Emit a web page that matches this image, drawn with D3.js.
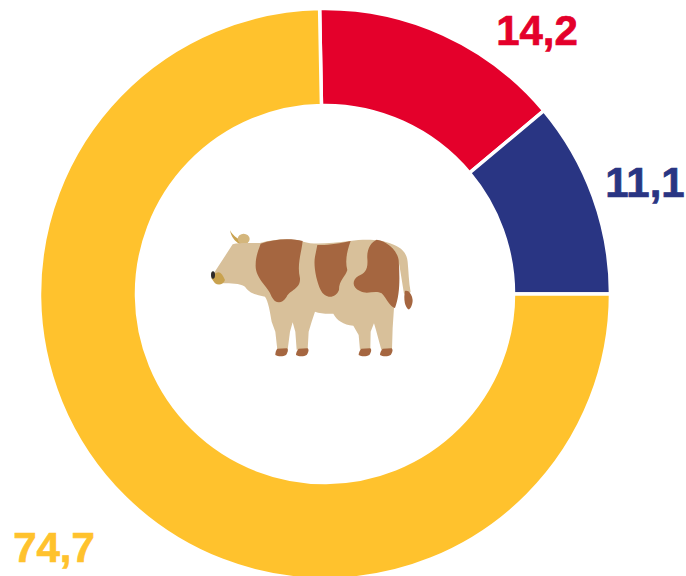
<!DOCTYPE html>
<html lang="en">
<head>
<meta charset="utf-8">
<title>Cow donut</title>
<script src="https://d3js.org/d3.v7.min.js"></script>
<style>
    html, body { margin: 0; padding: 0; background: #fff; }
    svg { display: block; }
    text { font-family: "Liberation Sans", Arial, sans-serif; font-weight: bold; }
</style>
</head>
<body>
<div id="chart"></div>
<script>
    var categories = ["red", "blue", "yellow"];
    var values = [14.2, 11.1, 74.7];
    var labels = ["14,2", "11,1", "74,7"];
    var colors = ["#e4002b", "#293583", "#ffc22d"];

    var WIDTH = 686;
    var HEIGHT = 576;
    var CX = 325;
    var CY = 294;
    // radii allow for the white stroke eating into the ring
    var OUTER = 285.5;
    var INNER = 188.5;

    // the blue slice has to end exactly at 3 o'clock
    var start = (Math.PI / 2) - (values[0] + values[1]) / d3.sum(values) * 2 * Math.PI;

    var svg = d3.select("#chart").append("svg")
        .attr("width", WIDTH)
        .attr("height", HEIGHT);

    var pie = d3.pie()
        .sort(null)
        .startAngle(start)
        .endAngle(start + 2 * Math.PI);

    var arc = d3.arc()
        .innerRadius(INNER)
        .outerRadius(OUTER);

    svg.append("g")
        .attr("transform", "translate(" + CX + "," + CY + ")")
        .selectAll("path")
        .data(pie(values))
        .enter().append("path")
        .attr("d", arc)
        .attr("fill", function (d, i) { return colors[i]; })
        .attr("stroke", "#fff")
        .attr("stroke-width", 3.5);

    // label anchors, outside the ring
    var labelX = [537, 645, 54];
    var labelY = [44.5, 197, 561.5];

    svg.selectAll(".lbl")
        .data(labels)
        .enter().append("text")
        .attr("class", "lbl")
        .attr("x", function (d, i) { return labelX[i]; })
        .attr("y", function (d, i) { return labelY[i]; })
        .attr("text-anchor", "middle")
        .attr("font-size", 42)
        .attr("fill", function (d, i) { return colors[i]; })
        .attr("stroke", function (d, i) { return colors[i]; })
        .attr("stroke-width", 0.7)
        .text(function (d) { return d; });

    // cow picture in the hole, traced at 3x
    var defs = svg.append("defs");
    defs.append("filter").attr("id", "soft")
        .append("feGaussianBlur").attr("stdDeviation", 2);

    var cow = svg.append("g")
        .attr("transform", "translate(190,215) scale(0.3333)")
        .attr("filter", "url(#soft)");

    var TAN = "#d8c09a";
    var BROWN = "#a5663f";
    var GOLD = "#c9a24f";

    cow.append("path").attr("fill", GOLD)
        .attr("d", "M120 46C130 64 145 74 166 82L172 88L150 88C135 80 124 66 120 46Z");
    cow.append("ellipse").attr("fill", "#d4b67c")
        .attr("cx", 161).attr("cy", 72).attr("rx", 18).attr("ry", 16);

    cow.append("path").attr("fill", TAN)
        .attr("d", "M68 180L128 88C150 82 180 85 210 84C260 70 310 70 340 80C370 90 420 85 480 78C520 72 570 72 600 85C630 95 650 110 653 140C656 170 656 200 662 232L642 236C636 200 632 170 626 140C626 200 626 250 612 280L608 340L606 404L574 404L558 345L552 325L542 350L541 404L510 404L506 360L490 332C460 330 440 315 430 296C410 298 390 295 375 290L365 320L356 350L353 404L320 404L316 350L308 322L300 350L293 404L262 404L256 350L245 320C240 290 235 260 225 245C205 240 180 238 165 215C150 205 120 205 100 205Z");

    cow.append("path").attr("fill", GOLD)
        .attr("d", "M70 180C85 165 95 170 105 195C100 210 85 212 75 205L64 190Z");
    cow.append("ellipse").attr("fill", "#2e2b2a")
        .attr("cx", 69).attr("cy", 180).attr("rx", 6).attr("ry", 11);

    var spots = [
        "M212 86C250 72 300 68 338 78C335 110 320 150 330 190C332 222 300 225 290 245C275 270 255 265 245 245C235 215 195 190 197 150C197 125 205 105 212 86Z",
        "M382 90C410 92 450 85 482 78C470 110 465 140 472 165C467 185 447 195 447 225C437 252 405 252 392 225C378 195 370 150 375 125Z",
        "M560 74C590 78 622 105 626 135C630 190 630 240 615 279C600 277 590 250 575 235C555 225 530 240 510 228C485 217 486 195 505 183C525 175 535 165 532 130C530 100 545 80 560 74Z",
        "M645 228C655 225 665 235 668 255C668 270 660 285 655 283C645 275 640 255 645 228Z",
        "M262 401L290 400C296 402 294 412 288 420C280 425 264 425 256 420C256 412 258 405 262 401Z",
        "M326 401L352 400C358 402 356 412 350 420C342 425 326 425 318 420C318 412 322 405 326 401Z",
        "M514 401L540 400C546 402 544 412 538 420C530 425 514 425 506 420C506 412 510 405 514 401Z",
        "M578 401L604 400C610 402 608 412 602 420C594 425 578 425 570 420C570 412 574 405 578 401Z"
    ];

    cow.selectAll(".spot")
        .data(spots)
        .enter().append("path")
        .attr("class", "spot")
        .attr("fill", BROWN)
        .attr("d", function (d) { return d; });
</script>
</body>
</html>
